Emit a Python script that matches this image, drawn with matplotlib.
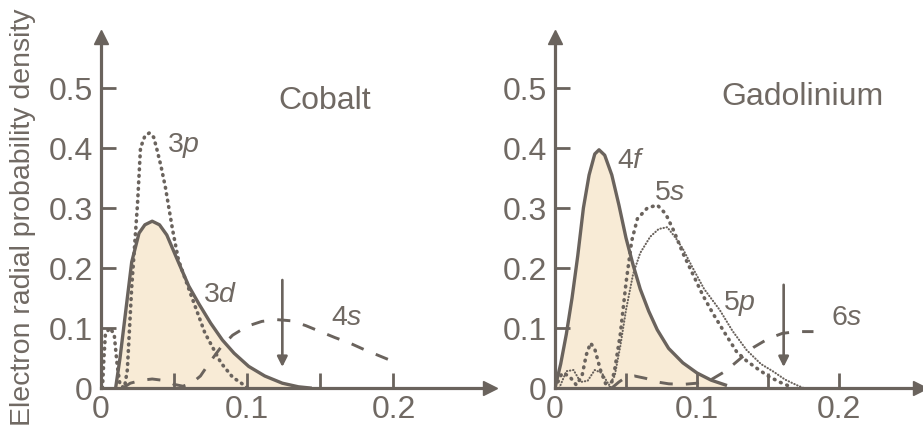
import matplotlib
matplotlib.use("Agg")
import matplotlib.pyplot as plt

plt.rcParams['font.family'] = ['Liberation Sans', 'DejaVu Sans']
plt.rcParams['mathtext.fontset'] = 'custom'
plt.rcParams['mathtext.rm'] = 'Liberation Sans'
plt.rcParams['mathtext.it'] = 'Liberation Sans:italic'

# colours of the scanned figure
INK = '#6a635d'
TXT = '#706963'
FILL = '#f8ebd6'

# ---- Cobalt ----
co_3d_r = [0.010, 0.013, 0.016, 0.021, 0.026, 0.030, 0.035, 0.040, 0.045, 0.052,
           0.060, 0.067, 0.075, 0.083, 0.091, 0.101, 0.112, 0.124, 0.135, 0.143]
co_3d_p = [0.0, 0.05, 0.11, 0.21, 0.258, 0.272, 0.278, 0.272, 0.255, 0.215,
           0.17, 0.14, 0.108, 0.080, 0.058, 0.036, 0.020, 0.008, 0.002, 0.0]

co_3p_r = [0.001, 0.002, 0.003, 0.006, 0.009, 0.011, 0.013, 0.016, 0.018, 0.021,
           0.025, 0.027, 0.030, 0.033, 0.036, 0.038, 0.041, 0.044, 0.049, 0.053,
           0.062, 0.071, 0.082, 0.090, 0.096, 0.100]
co_3p_p = [0.0, 0.05, 0.09, 0.10, 0.09, 0.04, 0.005, 0.0, 0.03, 0.168,
           0.308, 0.40, 0.42, 0.425, 0.418, 0.40, 0.37, 0.335, 0.263, 0.213,
           0.152, 0.092, 0.042, 0.018, 0.008, 0.0]

co_4s_r = [0.015, 0.020, 0.028, 0.035, 0.045, 0.050, 0.056, 0.062, 0.068, 0.075,
           0.082, 0.090, 0.100, 0.110, 0.120, 0.130, 0.140, 0.150, 0.160, 0.170,
           0.180, 0.190, 0.200]
co_4s_p = [0.0, 0.008, 0.013, 0.015, 0.012, 0.006, 0.003, 0.008, 0.02, 0.045,
           0.068, 0.088, 0.103, 0.111, 0.114, 0.112, 0.104, 0.094, 0.084, 0.075,
           0.064, 0.054, 0.044]

# ---- Gadolinium ----
gd_4f_r = [0.0, 0.004, 0.008, 0.012, 0.016, 0.020, 0.024, 0.028, 0.031, 0.035,
           0.040, 0.045, 0.050, 0.055, 0.060, 0.066, 0.072, 0.080, 0.090, 0.100,
           0.110, 0.120]
gd_4f_p = [0.0, 0.04, 0.09, 0.15, 0.22, 0.30, 0.355, 0.39, 0.397, 0.388,
           0.355, 0.305, 0.25, 0.205, 0.165, 0.128, 0.097, 0.066, 0.042, 0.025,
           0.013, 0.005]

gd_5s_r = [0.0, 0.005, 0.010, 0.015, 0.019, 0.022, 0.025, 0.028, 0.032, 0.036,
           0.039, 0.042, 0.046, 0.050, 0.054, 0.058, 0.065, 0.072, 0.078, 0.084,
           0.090, 0.097, 0.104, 0.111, 0.120, 0.128, 0.135, 0.142, 0.150, 0.158,
           0.165]
gd_5s_p = [0.0, 0.025, 0.02, 0.005, 0.02, 0.055, 0.075, 0.065, 0.03, 0.005,
           0.0, 0.03, 0.09, 0.175, 0.245, 0.282, 0.30, 0.305, 0.29, 0.26,
           0.225, 0.19, 0.155, 0.125, 0.09, 0.06, 0.045, 0.033, 0.02, 0.01,
           0.003]

gd_5p_r = [0.003, 0.008, 0.013, 0.018, 0.023, 0.028, 0.033, 0.038, 0.042, 0.046,
           0.050, 0.055, 0.060, 0.067, 0.073, 0.079, 0.085, 0.090, 0.097, 0.105,
           0.116, 0.125, 0.135, 0.145, 0.154, 0.162, 0.170, 0.175]
gd_5p_p = [0.0, 0.028, 0.03, 0.01, 0.012, 0.03, 0.025, 0.005, 0.02, 0.07,
           0.13, 0.19, 0.225, 0.252, 0.265, 0.268, 0.25, 0.232, 0.20, 0.165,
           0.13, 0.095, 0.063, 0.04, 0.027, 0.014, 0.005, 0.0]

gd_6s_r = [0.040, 0.045, 0.050, 0.056, 0.064, 0.072, 0.080, 0.090, 0.100, 0.110,
           0.120, 0.130, 0.140, 0.150, 0.160, 0.170, 0.182]
gd_6s_p = [0.0, 0.01, 0.018, 0.02, 0.016, 0.01, 0.007, 0.006, 0.008, 0.014,
           0.028, 0.048, 0.068, 0.082, 0.091, 0.094, 0.094]

# position of the 4s / 6s maximum arrows: (r, top, bottom)
co_arrow = (0.124, 0.18, 0.035)
gd_arrow = (0.161, 0.172, 0.035)

yticks = [0, 0.1, 0.2, 0.3, 0.4, 0.5]
ylabels = ['0', '0.1', '0.2', '0.3', '0.4', '0.5']
xticks = [0, 0.1, 0.2]
xlabels = ['0', '0.1', '0.2']
xminor = [0.05, 0.15]

fig = plt.figure(figsize=(9.23, 4.32), dpi=100)
ax1 = fig.add_axes([101 / 923, 44 / 432, 389 / 923, 351 / 432])
ax2 = fig.add_axes([555 / 923, 44 / 432, 365 / 923, 351 / 432])


def setup(ax, xmax):
    ax.set_xlim(0, xmax)
    ax.set_ylim(0, 0.585)
    ax.patch.set_alpha(0)
    for s in ['top', 'right']:
        ax.spines[s].set_visible(False)
    for s in ['left', 'bottom']:
        ax.spines[s].set_color(INK)
        ax.spines[s].set_linewidth(2.3)
    ax.set_yticks(yticks, ylabels)
    ax.set_xticks(xticks, xlabels)
    ax.set_xticks(xminor, minor=True)
    ax.tick_params(which='both', direction='in', length=11, width=2, color=INK,
                   labelcolor=TXT, labelsize=23)
    ax.tick_params(axis='x', pad=5)
    ax.tick_params(axis='y', pad=6)
    # arrow heads on the axes
    ax.plot(1, 0, '>', color=INK, ms=10, transform=ax.transAxes, clip_on=False)
    ax.plot(0, 1, '^', color=INK, ms=10, transform=ax.transAxes, clip_on=False)


def max_arrow(ax, a):
    r, top, bot = a
    ax.annotate('', xy=(r, bot), xytext=(r, top),
                arrowprops=dict(arrowstyle='-|>', color=INK, lw=1.9,
                                mutation_scale=15, shrinkA=0, shrinkB=0))


def dotted(ax, r, p, lw, gap):
    ax.plot(r, p, color=INK, lw=lw, ls=(0, (0.2, gap)), dash_capstyle='round', zorder=3)


setup(ax1, 0.266)
setup(ax2, 0.257)

# Cobalt
ax1.fill_between(co_3d_r, co_3d_p, color=FILL, lw=0, zorder=1)
ax1.plot(co_3d_r, co_3d_p, color=INK, lw=2.4, zorder=3)
dotted(ax1, co_3p_r, co_3p_p, 2.6, 1.6)
ax1.plot(co_4s_r, co_4s_p, color=INK, lw=2.1, ls=(0, (4.5, 4.5)), zorder=3)
max_arrow(ax1, co_arrow)
ax1.text(0.045, 0.405, r'3$\it{p}$', color=TXT, fontsize=20.5, va='center')
ax1.text(0.070, 0.155, r'3$\it{d}$', color=TXT, fontsize=20.5, va='center')
ax1.text(0.157, 0.117, r'4$\it{s}$', color=TXT, fontsize=20.5, va='center')
ax1.text(0.153, 0.478, 'Cobalt', color=TXT, fontsize=23, ha='center', va='center')

# Gadolinium
ax2.fill_between(gd_4f_r, gd_4f_p, color=FILL, lw=0, zorder=1)
ax2.plot(gd_4f_r, gd_4f_p, color=INK, lw=2.4, zorder=3)
dotted(ax2, gd_5s_r, gd_5s_p, 2.6, 1.7)
dotted(ax2, gd_5p_r, gd_5p_p, 1.5, 1.3)
ax2.plot(gd_6s_r, gd_6s_p, color=INK, lw=2.1, ls=(0, (4.5, 4.5)), zorder=3)
max_arrow(ax2, gd_arrow)
ax2.text(0.044, 0.378, r'4$\it{f}$', color=TXT, fontsize=20.5, va='center')
ax2.text(0.070, 0.325, r'5$\it{s}$', color=TXT, fontsize=20.5, va='center')
ax2.text(0.118, 0.140, r'5$\it{p}$', color=TXT, fontsize=20.5, va='center')
ax2.text(0.194, 0.117, r'6$\it{s}$', color=TXT, fontsize=20.5, va='center')
ax2.text(0.174, 0.485, 'Gadolinium', color=TXT, fontsize=23, ha='center', va='center')

fig.text(23 / 923, 1 - 217 / 432, 'Electron radial probability density', rotation=90,
         color=TXT, fontsize=20.5, ha='center', va='center')

fig.savefig('out.png', dpi=100)
